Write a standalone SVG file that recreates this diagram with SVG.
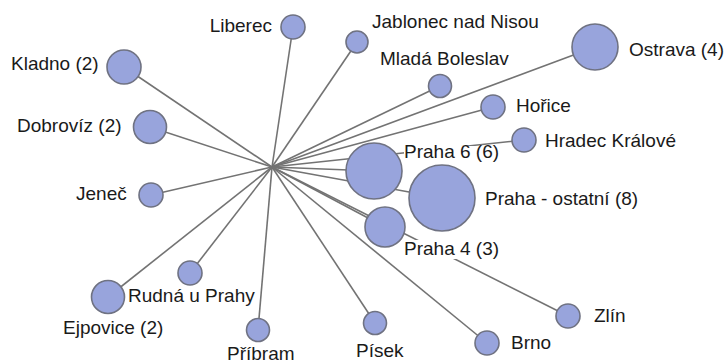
<svg xmlns="http://www.w3.org/2000/svg" width="727" height="364" viewBox="0 0 727 364">
<style>
.e{stroke:#737373;stroke-width:1.6;fill:none}
.n{fill:#98a4dc;stroke:#6f7282;stroke-width:1.6}
.t{font-family:"Liberation Sans",Arial,sans-serif;font-size:19px;fill:#1a1a1a}
.bg{fill:#ffffff}
</style>
<rect width="727" height="364" fill="#ffffff"/>
<g id="connectors">
<line class="e" x1="272" y1="167" x2="293" y2="27"/>
<line class="e" x1="272" y1="167" x2="357" y2="42"/>
<line class="e" x1="272" y1="167" x2="440" y2="86"/>
<line class="e" x1="272" y1="167" x2="595" y2="47"/>
<line class="e" x1="272" y1="167" x2="493" y2="107"/>
<line class="e" x1="272" y1="167" x2="524" y2="140"/>
<line class="e" x1="272" y1="167" x2="374" y2="171"/>
<line class="e" x1="272" y1="167" x2="442" y2="198"/>
<line class="e" x1="272" y1="167" x2="385" y2="227"/>
<line class="e" x1="272" y1="167" x2="568" y2="316"/>
<line class="e" x1="272" y1="167" x2="487" y2="343"/>
<line class="e" x1="272" y1="167" x2="375" y2="323"/>
<line class="e" x1="272" y1="167" x2="258" y2="330"/>
<line class="e" x1="272" y1="167" x2="190" y2="273"/>
<line class="e" x1="272" y1="167" x2="108" y2="297"/>
<line class="e" x1="272" y1="167" x2="151" y2="195"/>
<line class="e" x1="272" y1="167" x2="150" y2="127"/>
<line class="e" x1="272" y1="167" x2="124" y2="67"/>
</g>
<g id="liberec"><circle class="n" cx="293" cy="27" r="12"/><text class="t" x="272" y="32" text-anchor="end">Liberec</text></g>
<g id="jablonec"><circle class="n" cx="357" cy="42" r="11"/><text class="t" x="372" y="28">Jablonec nad Nisou</text></g>
<g id="mlada-boleslav"><circle class="n" cx="440" cy="86" r="11.5"/><text class="t" x="380" y="65">Mladá Boleslav</text></g>
<g id="ostrava"><circle class="n" cx="595" cy="47" r="23"/><text class="t" x="629" y="56">Ostrava (4)</text></g>
<g id="horice"><circle class="n" cx="493" cy="107" r="12"/><text class="t" x="516" y="112">Hořice</text></g>
<g id="hradec"><circle class="n" cx="524" cy="140" r="12"/><text class="t" x="545" y="147">Hradec Králové</text></g>
<g id="praha-ostatni"><circle class="n" cx="442" cy="198" r="33"/><text class="t" x="485" y="205">Praha - ostatní (8)</text></g>
<g id="praha6"><circle class="n" cx="374" cy="171" r="28"/><rect class="bg" x="404" y="146" width="96" height="16"/><text class="t" x="404" y="158">Praha 6 (6)</text></g>
<g id="praha4"><circle class="n" cx="385" cy="227" r="20"/><rect class="bg" x="403" y="240" width="98" height="19"/><text class="t" x="404" y="255">Praha 4 (3)</text></g>
<g id="zlin"><circle class="n" cx="568" cy="316" r="12"/><text class="t" x="594" y="322">Zlín</text></g>
<g id="brno"><circle class="n" cx="487" cy="343" r="12"/><text class="t" x="511" y="349">Brno</text></g>
<g id="pisek"><circle class="n" cx="375" cy="323" r="11.5"/><text class="t" x="356" y="357">Písek</text></g>
<g id="pribram"><circle class="n" cx="258" cy="330" r="11.5"/><text class="t" x="227" y="360">Příbram</text></g>
<g id="rudna"><circle class="n" cx="190" cy="273" r="12"/><text class="t" x="128" y="302">Rudná u Prahy</text></g>
<g id="ejpovice"><circle class="n" cx="108" cy="297" r="16.5"/><text class="t" x="63" y="334">Ejpovice (2)</text></g>
<g id="jenec"><circle class="n" cx="151" cy="195" r="12"/><text class="t" x="76" y="200">Jeneč</text></g>
<g id="dobroviz"><circle class="n" cx="150" cy="127" r="16.5"/><text class="t" x="17" y="132">Dobrovíz (2)</text></g>
<g id="kladno"><circle class="n" cx="124" cy="67" r="17"/><text class="t" x="11" y="70">Kladno (2)</text></g>
</svg>
